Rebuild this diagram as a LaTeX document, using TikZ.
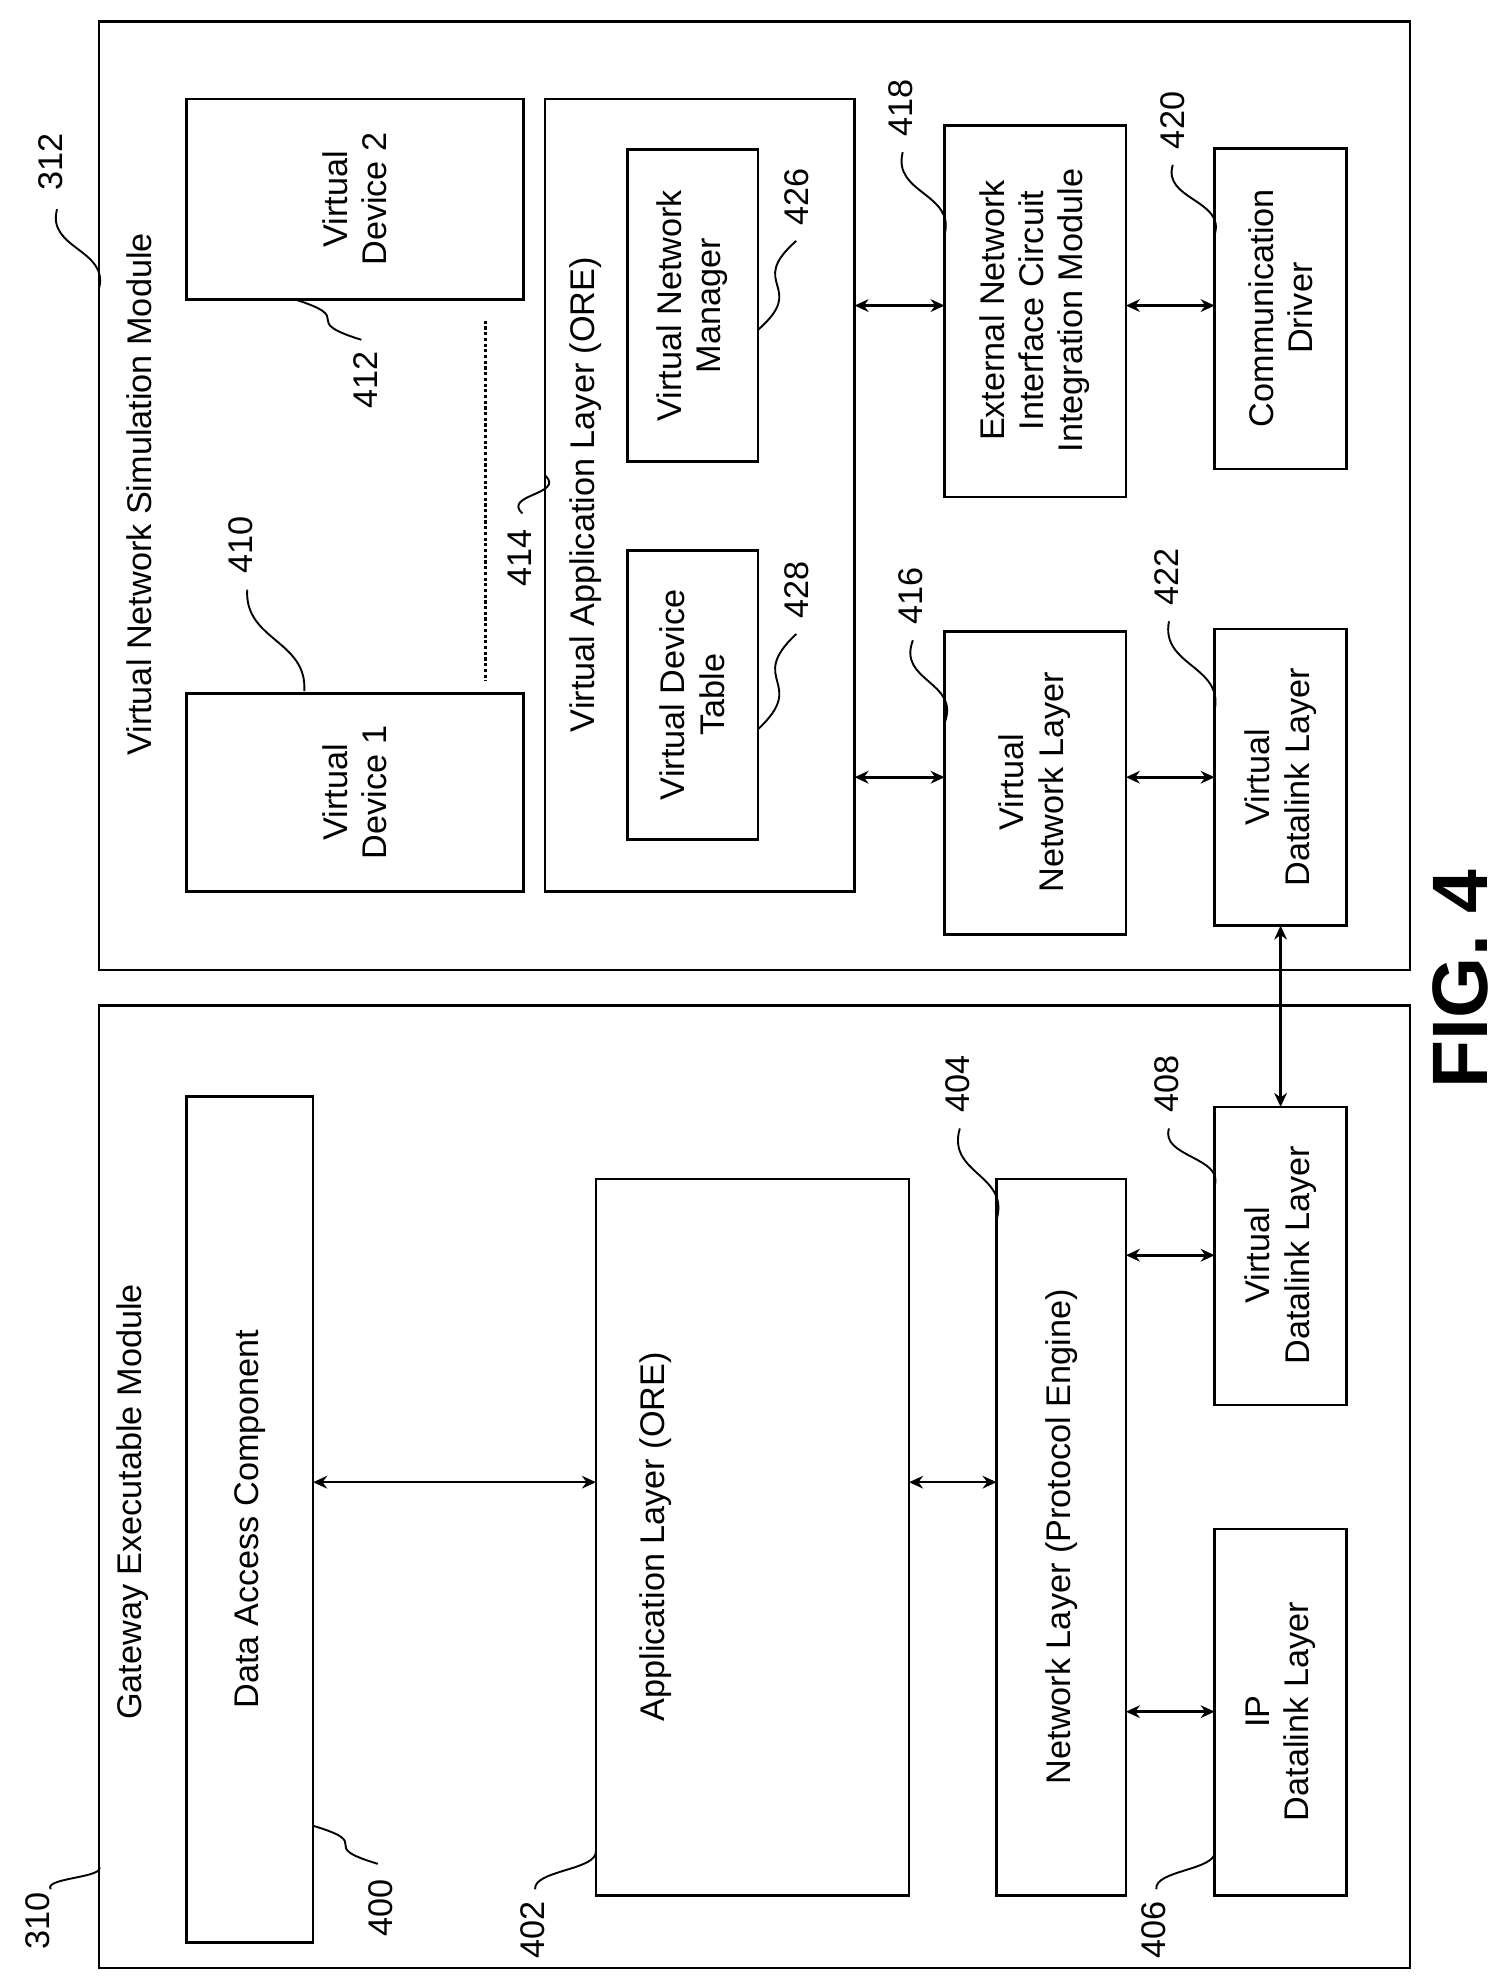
\documentclass[tikz,border=0pt]{standalone}
\usepackage{fontspec}
\usetikzlibrary{arrows.meta,calc}
\setmainfont{Liberation Sans}
\begin{document}
\begin{tikzpicture}[x=1pt,y=-1pt,
  box/.style={draw,line width=2pt},
  txt/.style={rotate=90,align=center,font=\fontsize{27}{31}\selectfont},
  num/.style={rotate=90,font=\fontsize{27}{31}\selectfont},
  arr/.style={line width=2pt,<->,>={Stealth[length=11pt,width=10pt]}},
  lead/.style={line width=1.5pt}]
\useasboundingbox[fill=white] (0,0) rectangle (1190,1564);
% outer
\draw[box] (78,17) rectangle (1112,765);
\draw[box] (78,793) rectangle (1112,1552);
\node[txt,anchor=south] (t312) at (78+45,390) {Virtual Network Simulation Module};
\node[txt,anchor=west] (t310) at (105,1360) {Gateway Executable Module};
% top boxes
\draw[box] (147,78) rectangle (413,236); \node[txt] (vd2) at (280,157) {Virtual\\Device 2};
\draw[box] (147,547) rectangle (413,703); \node[txt] (vd1) at (280,625) {Virtual\\Device 1};
\draw[line width=2.5pt,dotted] (383,253) -- (383,537);
\draw[box] (430,78) rectangle (674,703);
\node[txt] (val) at (462,390) {Virtual Application Layer (ORE)};
\draw[box] (495,118) rectangle (598,364); \node[txt] (vnm) at (546,241) {Virtual Network\\Manager};
\draw[box] (495,434) rectangle (598,662); \node[txt] (vdt) at (546,548) {Virtual Device\\Table};
\draw[box] (745,99) rectangle (888,392); \node[txt] (en) at (816,245) {External Network\\Interface Circuit\\Integration Module};
\draw[box] (958,117) rectangle (1062,370); \node[txt] (cd) at (1010,243) {Communication\\Driver};
\draw[box] (745,498) rectangle (888,737); \node[txt] (vnl) at (816,617) {Virtual\\Network Layer};
\draw[box] (958,496) rectangle (1062,730); \node[txt] (vdlt) at (1010,613) {Virtual\\Datalink Layer};
% bottom boxes
\draw[box] (147,865) rectangle (247,1532); \node[txt] (dac) at (197,1198) {Data Access Component};
\draw[box] (470,930) rectangle (717,1495); \node[txt] (al) at (517,1212) {Application Layer (ORE)};
\draw[box] (786,930) rectangle (888,1495); \node[txt] (nl) at (837,1212) {Network Layer (Protocol Engine)};
\draw[box] (958,873) rectangle (1062,1108); \node[txt] (vdlb) at (1010,990) {Virtual\\Datalink Layer};
\draw[box] (958,1206) rectangle (1062,1495); \node[txt] (ip) at (1010,1350) {IP\\Datalink Layer};
% arrows
\coordinate (a1) at (674,241); \coordinate (a2) at (745,241);
\coordinate (a3) at (888,241); \coordinate (a4) at (958,241);
\coordinate (b1) at (674,613); \coordinate (b2) at (745,613);
\coordinate (b3) at (888,613); \coordinate (b4) at (958,613);
\coordinate (c1) at (1010,730); \coordinate (c2) at (1010,873);
\coordinate (d1) at (247,1169); \coordinate (d2) at (470,1169);
\coordinate (d3) at (717,1169); \coordinate (d4) at (786,1169);
\coordinate (e1) at (888,990); \coordinate (e2) at (958,990);
\coordinate (f1) at (888,1350); \coordinate (f2) at (958,1350);
\foreach \p/\q in {a1/a2,a3/a4,b1/b2,b3/b4,c1/c2,d1/d2,d3/d4,e1/e2,f1/f2}
  \draw[arr] (\p) -- (\q);
% labels with leaders
\foreach \n/\lx/\ly/\sx/\sy/\ex/\ey in {
 312/40/128/45/165/78/228,
 310/30/1515/40/1490/78/1472,
 400/300/1505/298/1470/247/1440,
 402/420/1522/422/1490/470/1460,
 406/910/1522/912/1490/958/1460,
 404/755/855/757/890/786/962,
 408/920/855/922/890/958/935,
 410/190/430/195/465/240/545,
 412/288/300/285/268/232/236,
 414/410/440/412/405/430/375,
 416/718/470/720/505/745/570,
 422/920/455/922/490/958/560,
 428/628/465/628/500/598/575,
 426/628/155/628/190/598/260,
 418/710/85/712/120/745/185,
 420/925/95/925/130/958/185}{
  \node[num] (l\n) at (\lx,\ly) {\n};
  \coordinate (s\n) at (\sx,\sy); \coordinate (e\n) at (\ex,\ey);
  \draw[lead] (s\n) .. controls ($(s\n)!0.5!(e\n)+(-25,0)$) and ($(s\n)!0.5!(e\n)+(25,0)$) .. (e\n);
}
\node[rotate=90,font=\fontsize{62}{70}\selectfont\bfseries] (fig) at (1152,772) {FIG. 4};
\end{tikzpicture}
\end{document}
